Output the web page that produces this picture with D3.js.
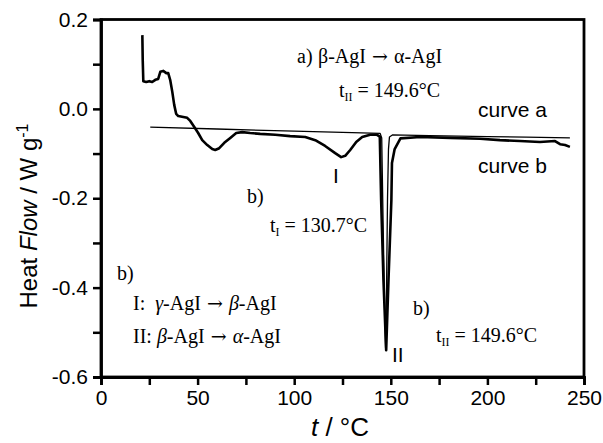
<!DOCTYPE html>
<html>
<head>
<meta charset="utf-8">
<script src="https://cdn.jsdelivr.net/npm/d3@7"></script>
<style>
  html, body { margin: 0; padding: 0; background: #fff; }
  svg { display: block; }
  .serif { font-family: "Liberation Serif", "Times New Roman", serif; }
  .sans { font-family: "Liberation Sans", Arial, sans-serif; }
  .arrow { font-family: "DejaVu Serif", serif; }
</style>
</head>
<body>
<svg id="chart" width="603" height="443"></svg>
<script>
// ---- data (temperature t / °C, heat flow / W g^-1) ----
const curveA_t = [25.5, 60, 100, 130, 144.5, 145.3, 146.0, 146.8, 147.3, 147.8, 148.3, 148.8, 149.3, 151, 170, 200, 220, 242.7];
const curveA_v = [-0.041, -0.045, -0.050, -0.053, -0.055, -0.065, -0.25, -0.45, -0.535, -0.40, -0.20, -0.09, -0.063, -0.058, -0.060, -0.062, -0.063, -0.065];

const curveB_t = [21.4, 21.6, 21.9, 23.4, 25.0, 26.5, 28.1, 29.6, 30.7, 32.2, 33.8, 34.8, 35.8, 36.9, 37.9, 38.9, 40.0, 42.6, 44.6, 46.2, 48.2, 50.3, 52.4, 55.0, 57.6, 59.1, 61.2, 63.8, 66.9, 70.0, 73.1, 77.2, 82.4, 90.2, 97.9, 105.7, 110.9, 116.0, 121.2, 124.3, 126.4, 129.0, 132.1, 135.2, 139.3, 142.9, 144.3, 145.0, 146.2, 147.6, 148.8, 150.3, 150.6, 152.0, 155.0, 165.2, 180.7, 196.2, 206.5, 216.8, 227.2, 235.0, 237.6, 240.2, 242.7];
const curveB_v = [0.165, 0.109, 0.062, 0.060, 0.062, 0.060, 0.065, 0.067, 0.083, 0.085, 0.080, 0.080, 0.065, 0.038, 0.009, -0.011, -0.016, -0.018, -0.020, -0.027, -0.040, -0.054, -0.070, -0.081, -0.090, -0.092, -0.088, -0.076, -0.065, -0.054, -0.052, -0.054, -0.056, -0.058, -0.061, -0.063, -0.070, -0.083, -0.099, -0.108, -0.105, -0.092, -0.074, -0.063, -0.058, -0.058, -0.062, -0.204, -0.383, -0.540, -0.383, -0.204, -0.121, -0.090, -0.066, -0.063, -0.065, -0.067, -0.070, -0.072, -0.074, -0.072, -0.079, -0.081, -0.085];

const xTicks = [0, 25, 50, 75, 100, 125, 150, 175, 200, 225, 250];
const xTickLabels = ["0", "", "50", "", "100", "", "150", "", "200", "", "250"];
const yTicks = [-0.6, -0.5, -0.4, -0.3, -0.2, -0.1, 0.0, 0.1, 0.2];
const yTickLabels = ["-0.6", "", "-0.4", "", "-0.2", "", "0.0", "", "0.2"];

// ---- layout ----
const svg = d3.select("#chart");
const L = 101, R = 584, T = 19.5, B = 377;
const x = d3.scaleLinear().domain([0, 250]).range([L, R]);
const y = d3.scaleLinear().domain([-0.6, 0.2]).range([B, T]);

// frame
svg.append("rect").attr("x", L).attr("y", T).attr("width", R - L).attr("height", B - T)
  .attr("fill", "none").attr("stroke", "#000").attr("stroke-width", 2.8);

// x axis
const xAxis = d3.axisBottom(x).tickValues(xTicks).tickSize(8).tickPadding(5)
  .tickFormat((d, i) => xTickLabels[i]);
const gx = svg.append("g").attr("transform", `translate(0,${B})`).call(xAxis);
gx.select(".domain").attr("stroke-width", 2.8);
gx.selectAll(".tick line").attr("stroke-width", 2.5);
gx.selectAll(".tick text").attr("font-size", 21).attr("fill", "#000")
  .attr("font-family", "Liberation Sans, Arial, sans-serif");

// y axis
const yAxis = d3.axisLeft(y).tickValues(yTicks).tickSize(8).tickPadding(5)
  .tickFormat((d, i) => yTickLabels[i]);
const gy = svg.append("g").attr("transform", `translate(${L},0)`).call(yAxis);
gy.select(".domain").attr("stroke-width", 2.8);
gy.selectAll(".tick line").attr("stroke-width", 2.5);
gy.selectAll(".tick text").attr("font-size", 21).attr("fill", "#000")
  .attr("font-family", "Liberation Sans, Arial, sans-serif");

// axis titles
const xt = svg.append("text").attr("class", "sans").attr("x", 340).attr("y", 436)
  .attr("text-anchor", "middle").attr("font-size", 26);
xt.append("tspan").attr("font-style", "italic").text("t");
xt.append("tspan").text(" / °C");

const yt = svg.append("text").attr("class", "sans")
  .attr("transform", `translate(37,216) rotate(-90)`)
  .attr("text-anchor", "middle").attr("font-size", 24);
yt.append("tspan").text("Heat ");
yt.append("tspan").attr("font-style", "italic").text("Flow");
yt.append("tspan").text(" / W g");
yt.append("tspan").attr("font-size", 16).attr("dy", -9).text("-1");

// curves
const line = d3.line().x(d => x(d[0])).y(d => y(d[1]));
const dataA = curveA_t.map((t, i) => [t, curveA_v[i]]);
const dataB = curveB_t.map((t, i) => [t, curveB_v[i]]);
svg.append("path").datum(dataA).attr("d", line).attr("fill", "none")
  .attr("stroke", "#000").attr("stroke-width", 1.3).attr("stroke-linejoin", "round");
svg.append("path").datum(dataB).attr("d", line).attr("fill", "none")
  .attr("stroke", "#000").attr("stroke-width", 2.6).attr("stroke-linejoin", "round");

// annotations
const FS = 20;
function serif(xp, yp) {
  return svg.append("text").attr("class", "serif").attr("x", xp).attr("y", yp).attr("font-size", FS);
}
function arrow(t) { t.append("tspan").attr("class", "arrow").attr("font-size", 19).text(" → "); }
function tWithSub(xp, yp, sub, rest) {
  const t = serif(xp, yp);
  t.append("tspan").text("t");
  t.append("tspan").attr("font-size", 12).attr("dy", 4).text(sub);
  t.append("tspan").attr("dy", -4).text(rest);
}
serif(297, 63).text("a)");
const la = serif(318, 63);
la.append("tspan").text("β-AgI");
arrow(la);
la.append("tspan").text("α-AgI");
tWithSub(339, 97, "II", " = 149.6°C");

svg.append("text").attr("class", "sans").attr("x", 478).attr("y", 117).attr("font-size", 21).text("curve a");
svg.append("text").attr("class", "sans").attr("x", 478).attr("y", 173).attr("font-size", 21).text("curve b");
svg.append("text").attr("class", "sans").attr("x", 333).attr("y", 183).attr("font-size", 21).text("I");
svg.append("text").attr("class", "sans").attr("x", 392).attr("y", 362).attr("font-size", 21).text("II");

serif(247, 203).text("b)");
tWithSub(270, 232, "I", " = 130.7°C");

serif(117, 280).text("b)");
const l1 = serif(133, 310);
l1.append("tspan").text("I:\u00a0\u00a0");
l1.append("tspan").attr("font-style", "italic").text("γ");
l1.append("tspan").text("-AgI");
arrow(l1);
l1.append("tspan").attr("font-style", "italic").text("β");
l1.append("tspan").text("-AgI");
const l2 = serif(133, 343);
l2.append("tspan").text("II:\u00a0");
l2.append("tspan").attr("font-style", "italic").text("β");
l2.append("tspan").text("-AgI");
arrow(l2);
l2.append("tspan").attr("font-style", "italic").text("α");
l2.append("tspan").text("-AgI");

serif(413, 315).text("b)");
tWithSub(436, 342, "II", " = 149.6°C");
</script>
</body>
</html>
